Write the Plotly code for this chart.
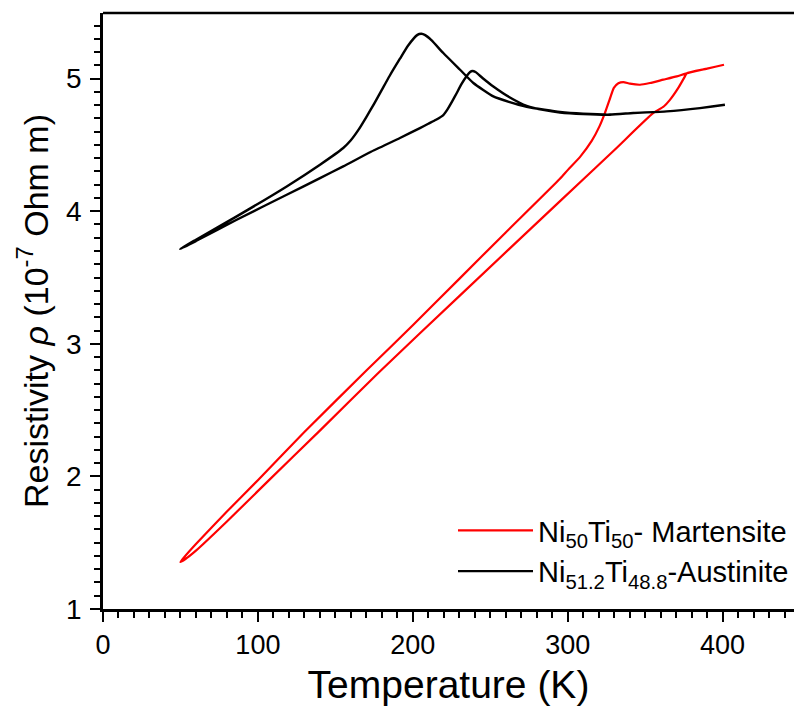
import plotly.graph_objects as go

# Ni50Ti50 (Martensite) - heating branch then cooling branch
T_mart = [50.0, 53.0, 60.0, 80.0, 105.7, 140.0, 177.7, 230.0, 295.4, 330.0,
          355.3, 362.0, 366.0, 371.4, 375.7, 376.8, 390.0, 400.9,
          390.0, 376.8, 370.4, 361.7, 353.1, 346.7, 340.2, 335.9, 332.7, 329.8, 327.0, 324.0,
          320.5, 315.5, 308.0, 300.0, 295.0, 260.0, 230.0, 200.0, 170.2, 130.0, 100.3, 80.0, 60.0, 52.0, 50.0]
rho_mart = [1.355, 1.375, 1.44, 1.66, 1.955, 2.345, 2.78, 3.36, 4.08, 4.46,
            4.741, 4.79, 4.84, 4.93, 5.017, 5.040, 5.075, 5.105,
            5.075, 5.040, 5.017, 4.992, 4.967, 4.954, 4.962, 4.974, 4.965, 4.93, 4.84, 4.74,
            4.64, 4.53, 4.41, 4.31, 4.245, 3.84, 3.49, 3.14, 2.80, 2.335, 1.975, 1.735, 1.49, 1.385, 1.355]

# Ni51.2Ti48.8 (Austenite) - heating branch then cooling branch
T_aus = [49.7, 60.0, 86.3, 118.6, 140.1, 155.1, 172.4, 191.7, 204.6, 210.0, 215.0, 219.7, 222.5, 225.5,
         228.3, 231.5, 234.8, 237.0, 238.5, 240.5, 245.0, 252.0, 262.7, 273.5, 285.0, 295.0, 310.0,
         327.3, 342.4, 363.9, 385.4, 401.5,
         385.4, 363.9, 342.4, 327.3, 310.0, 295.0, 285.0, 273.5, 262.0, 252.0, 239.1, 230.5, 219.7, 212.0,
         208.0, 205.5, 203.0, 197.0, 191.7, 185.0, 180.0, 175.0, 170.0, 165.0, 160.0, 155.1, 140.1, 118.6,
         86.3, 60.0, 49.7]
rho_aus = [3.715, 3.775, 3.936, 4.124, 4.250, 4.338, 4.445, 4.552, 4.627, 4.66, 4.69, 4.725, 4.77, 4.83,
           4.89, 4.96, 5.02, 5.05, 5.058, 5.05, 5.005, 4.941, 4.858, 4.795, 4.762, 4.745, 4.733,
           4.728, 4.741, 4.753, 4.778, 4.803,
           4.778, 4.753, 4.741, 4.729, 4.735, 4.748, 4.765, 4.788, 4.825, 4.866, 4.967, 5.067, 5.193, 5.29,
           5.328, 5.338, 5.33, 5.25, 5.15, 5.02, 4.915, 4.81, 4.71, 4.615, 4.535, 4.477, 4.351, 4.187,
           3.961, 3.785, 3.715]

FONT = "Liberation Sans, Arial, sans-serif"

fig = go.Figure()
fig.add_trace(go.Scatter(x=T_mart, y=rho_mart, mode="lines",
                         line=dict(color="#ff0000", width=2.2, shape="spline", smoothing=0.5),
                         name="Ni<sub>50</sub>Ti<sub>50</sub>- Martensite"))
fig.add_trace(go.Scatter(x=T_aus, y=rho_aus, mode="lines",
                         line=dict(color="#000000", width=2.4, shape="spline", smoothing=0.5),
                         name="Ni<sub>51.2</sub>Ti<sub>48.8</sub>-Austinite"))

fig.update_layout(
    width=794, height=709,
    margin=dict(l=103, r=0, t=13, b=100),
    paper_bgcolor="white", plot_bgcolor="white",
    font=dict(family=FONT, color="black"),
    showlegend=True,
    legend=dict(x=1.0, y=0.02, xanchor="right", yanchor="bottom",
                font=dict(size=29, family=FONT), bgcolor="rgba(0,0,0,0)",
                itemwidth=75, tracegroupgap=0),
    xaxis=dict(range=[0, 446.1], showline=True, linecolor="black", linewidth=2.5,
               ticks="outside", ticklen=10, tickwidth=2, tickcolor="black",
               tickvals=[0, 100, 200, 300, 400], showgrid=False, zeroline=False,
               minor=dict(dtick=10, tick0=0, ticks="outside", ticklen=6, tickwidth=1.5, tickcolor="black", showgrid=False),
               tickfont=dict(size=27, family=FONT),
               title=dict(text="Temperature (K)", font=dict(size=39, family=FONT), standoff=12)),
    yaxis=dict(range=[1, 5.495], showline=True, linecolor="black", linewidth=2.5,
               ticks="outside", ticklen=10, tickwidth=2, tickcolor="black",
               tickvals=[1, 2, 3, 4, 5], showgrid=False, zeroline=False, ticklabelstandoff=3,
               minor=dict(dtick=0.1, tick0=1, ticks="outside", ticklen=6, tickwidth=1.5, tickcolor="black", showgrid=False),
               tickfont=dict(size=28, family=FONT),
               title=dict(text="Resistivity <i>ρ</i> (10<sup>-7</sup> Ohm m)", font=dict(size=34, family=FONT), standoff=8)),
    shapes=[dict(type="line", xref="paper", yref="paper", x0=0, x1=1, y0=1, y1=1,
                 line=dict(color="black", width=2.5))],
)

fig.write_html("out.html")
